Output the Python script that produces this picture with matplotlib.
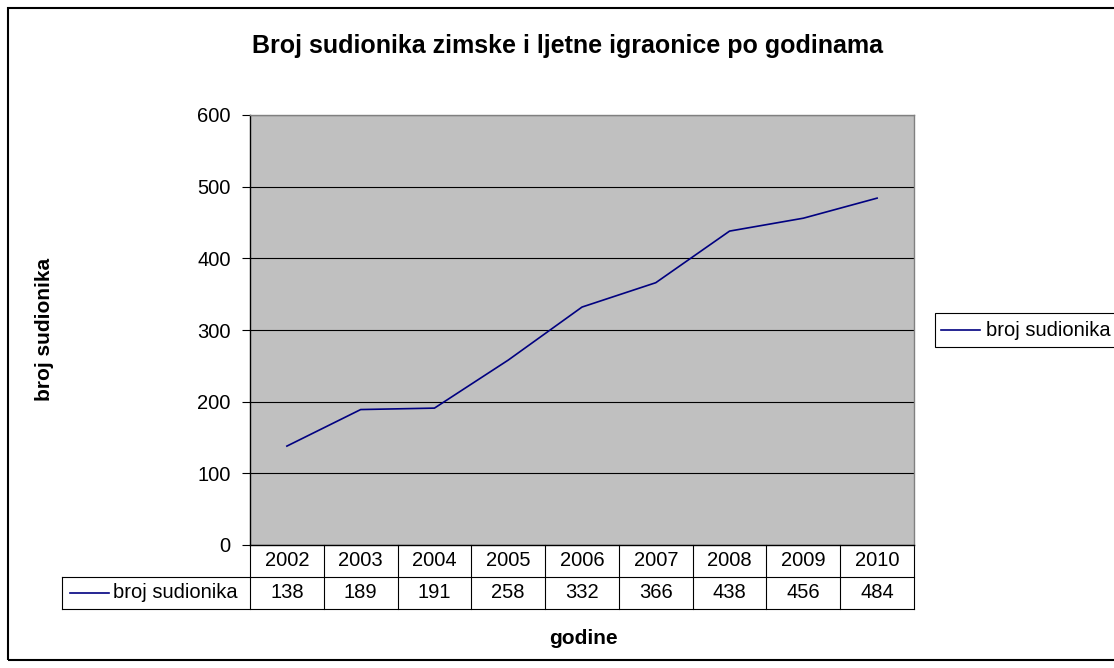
import matplotlib
matplotlib.use('Agg')
import matplotlib.pyplot as plt
from matplotlib.patches import Rectangle
from matplotlib.lines import Line2D

plt.rcParams['font.family'] = ['Liberation Sans', 'DejaVu Sans']

years = ['2002', '2003', '2004', '2005', '2006', '2007', '2008', '2009', '2010']
participants = [138, 189, 191, 258, 332, 366, 438, 456, 484]
series_name = 'broj sudionika'
title = 'Broj sudionika zimske i ljetne igraonice po godinama'
line_color = '#000080'
fs = 14.5

W, H = 1114, 668
fig = plt.figure(figsize=(W / 100, H / 100), dpi=100)
fig.patch.set_facecolor('white')

# outer chart border
fig.patches.append(Rectangle((8 / W, 8 / H), 1.2, (660 - 8) / H, transform=fig.transFigure,
                             fill=False, edgecolor='black', linewidth=1.5))

left, right, top, bottom = 250, 914, 115, 545
ax = fig.add_axes([left / W, (H - bottom) / H, (right - left) / W, (bottom - top) / H])
ax.set_facecolor('#c0c0c0')

n = len(years)
xs = list(range(n))
ax.plot(xs, participants, color=line_color, linewidth=1.2)
ax.set_xlim(-0.5, n - 0.5)
ax.set_ylim(0, 600)
ax.set_yticks(range(0, 601, 100))
ax.yaxis.grid(True, color='black', linewidth=0.8)
ax.set_axisbelow(True)
ax.set_xticks([])
ax.tick_params(axis='y', labelsize=fs, length=6, width=0.8, color='black', pad=8)

for s in ['top', 'right']:
    ax.spines[s].set_color('#808080')
    ax.spines[s].set_linewidth(1.0)
for s in ['left', 'bottom']:
    ax.spines[s].set_color('black')
    ax.spines[s].set_linewidth(1.0)

# data table under the axes
ah = bottom - top
aw = right - left
row_h = 32 / ah
col_w = 1.0 / n
legend_left = (62 - left) / aw
kw = dict(transform=ax.transAxes, clip_on=False, color='black', linewidth=0.8)

# horizontal lines
ax.add_line(Line2D([0, 1], [-row_h, -row_h], **kw))
ax.add_line(Line2D([legend_left, 0], [-row_h, -row_h], **kw))
ax.add_line(Line2D([legend_left, 1], [-2 * row_h, -2 * row_h], **kw))
# vertical lines
for i in range(n + 1):
    ax.add_line(Line2D([i * col_w, i * col_w], [0, -2 * row_h], **kw))
ax.add_line(Line2D([legend_left, legend_left], [-row_h, -2 * row_h], **kw))

for i, (yr, v) in enumerate(zip(years, participants)):
    cx = (i + 0.5) * col_w
    ax.text(cx, -0.5 * row_h, yr, transform=ax.transAxes, ha='center', va='center', fontsize=fs)
    ax.text(cx, -1.5 * row_h, str(v), transform=ax.transAxes, ha='center', va='center', fontsize=fs)

# legend key in table
kx0 = (70 - left) / aw
kx1 = (109 - left) / aw
ax.add_line(Line2D([kx0, kx1], [-1.5 * row_h, -1.5 * row_h], transform=ax.transAxes,
                   clip_on=False, color=line_color, linewidth=1.2))
ax.text((113 - left) / aw, -1.5 * row_h, series_name, transform=ax.transAxes,
        ha='left', va='center', fontsize=fs)

# titles
fig.text(568 / W, 1 - 46 / H, title, ha='center', va='center', fontsize=18, fontweight='bold')
fig.text(583 / W, 1 - 639 / H, 'godine', ha='center', va='center', fontsize=15, fontweight='bold')
fig.text(44 / W, 1 - 329 / H, 'broj sudionika', ha='center', va='center', fontsize=15,
         fontweight='bold', rotation=90)

# legend on right
fig.patches.append(Rectangle((935 / W, 1 - 347 / H), 200 / W, 34 / H, transform=fig.transFigure,
                             fill=True, facecolor='white', edgecolor='black', linewidth=0.8))
fig.lines.append(Line2D([941 / W, 980 / W], [1 - 330 / H, 1 - 330 / H], transform=fig.transFigure,
                        color=line_color, linewidth=1.2))
fig.text(986 / W, 1 - 330 / H, series_name, ha='left', va='center', fontsize=fs)

fig.savefig('out.png', dpi=100)
